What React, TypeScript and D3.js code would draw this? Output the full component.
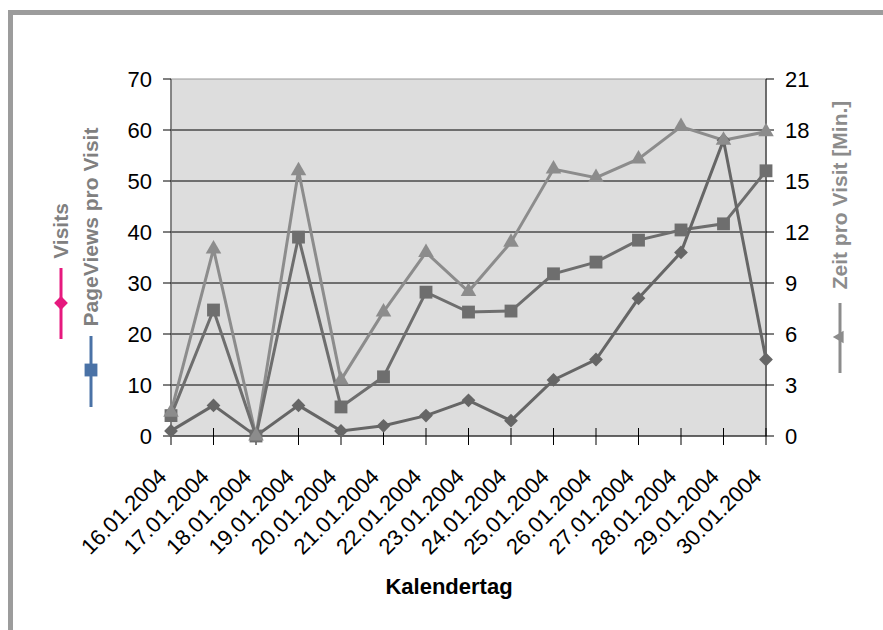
import * as d3 from "d3";

const days = [
  "16.01.2004", "17.01.2004", "18.01.2004", "19.01.2004", "20.01.2004",
  "21.01.2004", "22.01.2004", "23.01.2004", "24.01.2004", "25.01.2004",
  "26.01.2004", "27.01.2004", "28.01.2004", "29.01.2004", "30.01.2004",
];
const visits = [1, 6, 0, 6, 1, 2, 4, 7, 3, 11, 15, 27, 36, 58, 15];
const pageViews = [4, 24.7, 0, 39, 5.7, 11.6, 28.2, 24.3, 24.5, 31.8, 34.1, 38.4, 40.4, 41.6, 52];
const zeit = [1.4, 11, 0, 15.6, 3.3, 7.3, 10.8, 8.5, 11.4, 15.7, 15.2, 16.3, 18.2, 17.4, 17.9];
const leftTicks = [0, 10, 20, 30, 40, 50, 60, 70];
const rightTicks = [0, 3, 6, 9, 12, 15, 18, 21];

const W = 883;
const H = 630;
const plot = { left: 171, right: 766, top: 79, bottom: 436 };
const font = "Arial, 'Liberation Sans', sans-serif";

export default function App() {
  const x = d3.scalePoint<string>().domain(days).range([plot.left, plot.right]);
  const yL = d3.scaleLinear().domain([0, 70]).range([plot.bottom, plot.top]);
  const yR = d3.scaleLinear().domain([0, 21]).range([plot.bottom, plot.top]);

  const lineL = d3
    .line<number>()
    .x((_, i) => x(days[i])!)
    .y((d) => yL(d));
  const lineR = d3
    .line<number>()
    .x((_, i) => x(days[i])!)
    .y((d) => yR(d));

  const diamond = d3.symbol().type(d3.symbolSquare).size(95)()!;
  const square = d3.symbol().type(d3.symbolSquare).size(165)()!;
  const triangle = d3.symbol().type(d3.symbolTriangle).size(105)()!;

  const dark = "#666666";
  const dark2 = "#6e6e6e";
  const light = "#8c8c8c";

  return (
    <svg
      width={W}
      height={H}
      style={{ position: "absolute", left: 0, top: 0, fontFamily: font }}
    >
      <rect width={W} height={H} fill="#ffffff" />
      {/* outer frame */}
      <path d={`M10.5,${H} V12.5 H${W}`} fill="none" stroke="#9c9c9c" strokeWidth={5} />

      {/* plot area */}
      <rect
        x={plot.left}
        y={plot.top}
        width={plot.right - plot.left}
        height={plot.bottom - plot.top}
        fill="#dddddd"
        stroke="#9a9a9a"
        strokeWidth={1}
      />
      {leftTicks.slice(1, -1).map((t) => (
        <line key={t} x1={plot.left} x2={plot.right} y1={yL(t)} y2={yL(t)} stroke="#000" strokeWidth={1} />
      ))}

      {/* axes */}
      <line x1={plot.left} x2={plot.left} y1={plot.top} y2={plot.bottom} stroke="#707070" strokeWidth={1.5} />
      <line x1={plot.right} x2={plot.right} y1={plot.top} y2={plot.bottom} stroke="#505050" strokeWidth={1.5} />
      <line x1={plot.left} x2={plot.right} y1={plot.bottom} y2={plot.bottom} stroke="#000" strokeWidth={1.2} />

      {leftTicks.map((t) => (
        <g key={"l" + t}>
          <line x1={plot.left - 8} x2={plot.left} y1={yL(t)} y2={yL(t)} stroke="#000" />
          <text x={plot.left - 19} y={yL(t)} dy="0.36em" textAnchor="end" fontSize={22} fill="#000">
            {t}
          </text>
        </g>
      ))}
      {rightTicks.map((t) => (
        <g key={"r" + t}>
          <line x1={plot.right} x2={plot.right + 8} y1={yR(t)} y2={yR(t)} stroke="#000" />
          <text x={plot.right + 19} y={yR(t)} dy="0.36em" textAnchor="start" fontSize={22} fill="#000">
            {t}
          </text>
        </g>
      ))}
      {days.map((d) => (
        <g key={d}>
          <line x1={x(d)} x2={x(d)} y1={plot.bottom - 8} y2={plot.bottom + 9} stroke="#000" />
          <text
            transform={`translate(${x(d)! - 3},${plot.bottom + 42}) rotate(-45)`}
            textAnchor="end"
            fontSize={22}
            fill="#000"
          >
            {d}
          </text>
        </g>
      ))}

      {/* series */}
      <path d={lineR(zeit)!} fill="none" stroke={light} strokeWidth={3} />
      <path d={lineL(pageViews)!} fill="none" stroke={dark2} strokeWidth={3} />
      <path d={lineL(visits)!} fill="none" stroke={dark} strokeWidth={3} />
      {visits.map((v, i) => (
        <path key={"v" + i} d={diamond} transform={`translate(${x(days[i])},${yL(v)}) rotate(45)`} fill={dark} />
      ))}
      {pageViews.map((v, i) => (
        <path key={"p" + i} d={square} transform={`translate(${x(days[i])},${yL(v)})`} fill={dark2} />
      ))}
      {zeit.map((v, i) => (
        <path key={"z" + i} d={triangle} transform={`translate(${x(days[i])},${yR(v)})`} fill={light} />
      ))}

      {/* axis titles */}
      <text x={449} y={594} textAnchor="middle" fontSize={22} fontWeight="bold" fill="#000">
        Kalendertag
      </text>
      <text transform="translate(68,231) rotate(-90)" textAnchor="middle" fontSize={21} fontWeight="bold" fill="#808080">
        Visits
      </text>
      <text transform="translate(98,227) rotate(-90)" textAnchor="middle" fontSize={21} fontWeight="bold" fill="#808080">
        PageViews pro Visit
      </text>
      <text transform="translate(847,195) rotate(-90)" textAnchor="middle" fontSize={21} fontWeight="bold" fill="#8c8c8c">
        Zeit pro Visit [Min.]
      </text>

      {/* legend keys */}
      <line x1={61} x2={61} y1={268} y2={339} stroke="#e6197e" strokeWidth={3} />
      <path d={diamond} transform="translate(61,303) rotate(45)" fill="#e6197e" />
      <line x1={91} x2={91} y1={336} y2={407} stroke="#4a72a6" strokeWidth={3} />
      <path d={square} transform="translate(91,370) rotate(90)" fill="#4a72a6" />
      <line x1={840} x2={840} y1={303} y2={373} stroke={light} strokeWidth={3} />
      <path d={triangle} transform="translate(840,337) rotate(-90) scale(0.8)" fill={light} />
    </svg>
  );
}
